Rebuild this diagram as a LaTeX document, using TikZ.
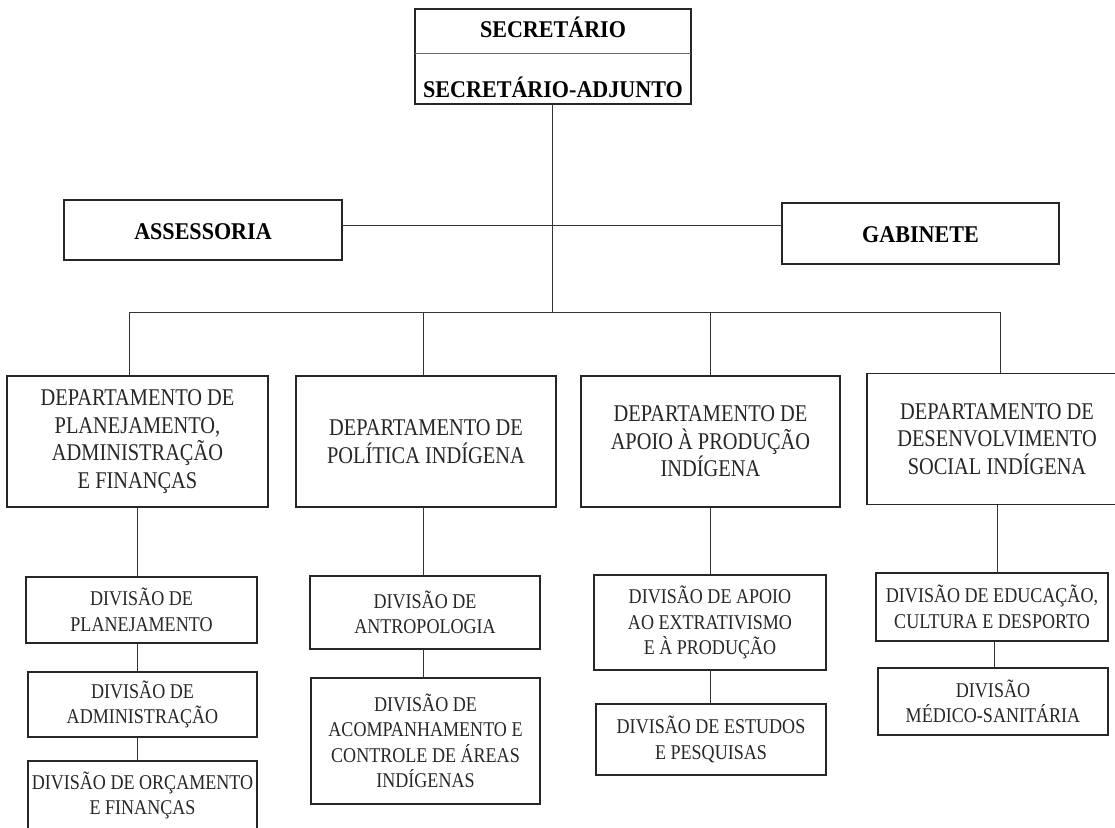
\documentclass[tikz,border=0pt]{standalone}
\usepackage{fontspec}
\setmainfont{Liberation Serif}
\newfontfamily\divfont[FakeStretch=0.86]{Liberation Serif}
\newfontfamily\depfont[FakeStretch=0.85]{Liberation Serif}
\newfontfamily\topbold[FakeStretch=0.92]{Liberation Serif Bold}
\begin{document}
\begin{tikzpicture}[x=1pt,y=-1pt,
  frame/.style={draw=black!85, line width=1.3pt, inner sep=0pt, outer sep=0pt},
  topfont/.style={font=\topbold\fontsize{24}{28}\selectfont},
  headbox/.style={frame},
  depbox/.style={frame, minimum width=260pt, minimum height=131pt, align=center,
    font=\depfont\fontsize{24}{27.5}\selectfont, text=black!85},
  divbox/.style={frame, align=center, font=\divfont\fontsize{21}{25.5}\selectfont, text=black!85},
  link/.style={draw=black!80, line width=1pt}]
\useasboundingbox (0,0) rectangle (1115,827);
\clip (0,0) rectangle (1115,827);

% top box
\node[frame, minimum width=276pt, minimum height=95pt] (top) at (553,56.5) {};
\node[topfont, anchor=base, inner sep=0pt] (sec) at (553,37) {SECRETÁRIO};
\node[topfont, anchor=base, inner sep=0pt] (adj) at (553,97) {SECRETÁRIO-ADJUNTO};
\coordinate (dv) at (553,53);
\draw[line width=0.8pt, black!60] (dv -| top.west) -- (dv -| top.east);

% staff
\node[headbox, minimum width=278pt, minimum height=60pt] (ass) at (203,230) {};
\node[topfont, anchor=base, inner sep=0pt] (asst) at (203,239) {ASSESSORIA};
\node[headbox, minimum width=277pt, minimum height=61pt] (gab) at (920.5,233.5) {};
\node[topfont, anchor=base, inner sep=0pt] (gabt) at (920.5,242) {GABINETE};

% departments
\node[depbox, minimum width=261pt] (d1) at (137.5,441.5) {DEPARTAMENTO DE\\PLANEJAMENTO,\\ADMINISTRAÇÃO\\E FINANÇAS};
\node[depbox] (d2) at (426,441.5) {DEPARTAMENTO DE\\POLÍTICA INDÍGENA};
\node[depbox, minimum width=259pt] (d3) at (710.5,441.5) {DEPARTAMENTO DE\\APOIO À PRODUÇÃO\\INDÍGENA};
\node[depbox] (d4) at (997,439) {DEPARTAMENTO DE\\DESENVOLVIMENTO\\SOCIAL INDÍGENA};

% divisions
\node[divbox, minimum width=231pt, minimum height=66pt] (v11) at (141.5,610) {DIVISÃO DE\\PLANEJAMENTO};
\node[divbox, minimum width=229pt, minimum height=65pt] (v12) at (142.5,704.5) {DIVISÃO DE\\ADMINISTRAÇÃO};
\node[divbox, minimum width=229pt, minimum height=69pt] (v13) at (142.5,795.5) {DIVISÃO DE ORÇAMENTO\\E FINANÇAS};

\node[divbox, minimum width=230pt, minimum height=73pt] (v21) at (425,612.5) {DIVISÃO DE\\ANTROPOLOGIA};
\node[divbox, minimum width=229pt, minimum height=126pt] (v22) at (425.5,741) {DIVISÃO DE\\ACOMPANHAMENTO E\\CONTROLE DE ÁREAS\\INDÍGENAS};

\node[divbox, minimum width=232pt, minimum height=95pt] (v31) at (710,622.5) {DIVISÃO DE APOIO\\AO EXTRATIVISMO\\E À PRODUÇÃO};
\node[divbox, minimum width=230pt, minimum height=71pt] (v32) at (711,739.5) {DIVISÃO DE ESTUDOS\\E PESQUISAS};

\node[divbox, minimum width=232pt, minimum height=68pt] (v41) at (992,607) {DIVISÃO DE EDUCAÇÃO,\\CULTURA E DESPORTO};
\node[divbox, minimum width=230pt, minimum height=67pt] (v42) at (993,701.5) {DIVISÃO\\MÉDICO-SANITÁRIA};

% connectors
\coordinate (hl) at (552,225);
\coordinate (bar) at (552,312);
\draw[link] ([xshift=-1pt]top.south) -- (bar);
\draw[link] (hl -| ass.east) -- (hl -| gab.west);
\draw[link] ([xshift=-8.5pt]d1.north) -- ([xshift=-8.5pt]d1.north |- bar) -- ([xshift=3pt]d4.north |- bar) -- ([xshift=3pt]d4.north);
\draw[link] ([xshift=-3pt]d2.north) -- ([xshift=-3pt]d2.north |- bar);
\draw[link] (d3.north) -- (d3.north |- bar);

\draw[link] (d1.south) -- (d1.south |- v11.north);
\draw[link] (v11.south -| d1.south) -- (d1.south |- v12.north);
\draw[link] (v12.south -| d1.south) -- (d1.south |- v13.north);

\draw[link] ([xshift=-3pt]d2.south) -- ([xshift=-3pt]d2.south |- v21.north);
\draw[link] ([xshift=-3pt]d2.south |- v21.south) -- ([xshift=-3pt]d2.south |- v22.north);

\draw[link] (d3.south) -- (d3.south |- v31.north);
\draw[link] (d3.south |- v31.south) -- (d3.south |- v32.north);

\draw[link] (d4.south) -- (d4.south |- v41.north);
\draw[link] ([xshift=-3pt]d4.south |- v41.south) -- ([xshift=-3pt]d4.south |- v42.north);
\end{tikzpicture}
\end{document}
